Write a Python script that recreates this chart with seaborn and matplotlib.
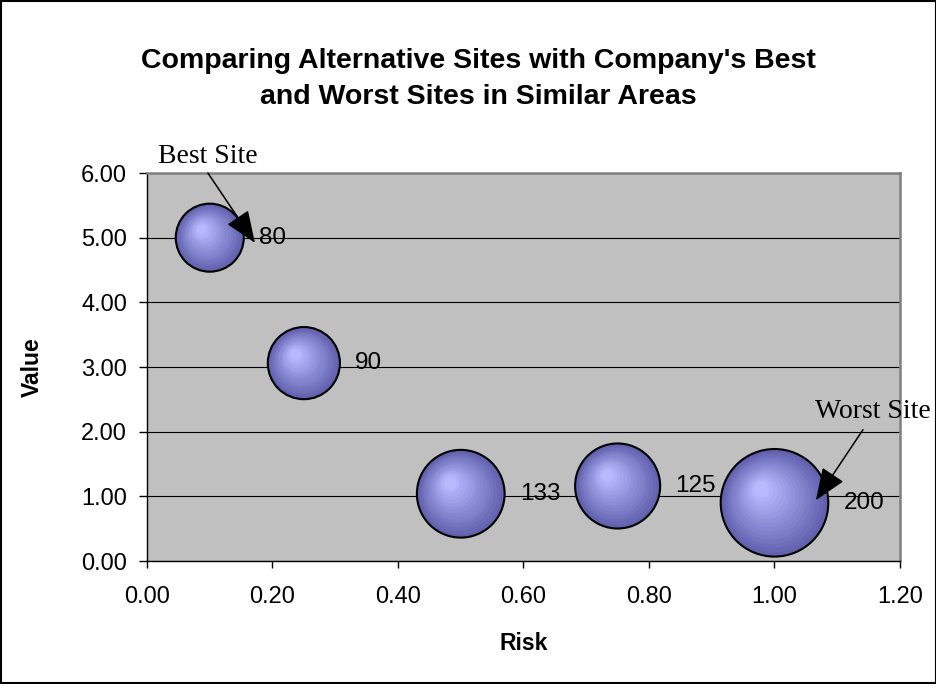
import numpy as np
import pandas as pd
import matplotlib
matplotlib.use("Agg")
import matplotlib.pyplot as plt
import matplotlib.transforms as mtransforms
from matplotlib.patches import Rectangle
import seaborn as sns

# chart data
risk = [0.10, 0.25, 0.50, 0.75, 1.00]
value = [5.00, 3.06, 1.04, 1.16, 0.90]
site_size = [80, 90, 133, 125, 200]
x_ticks = [0.00, 0.20, 0.40, 0.60, 0.80, 1.00, 1.20]
y_ticks = [0.00, 1.00, 2.00, 3.00, 4.00, 5.00, 6.00]

df = pd.DataFrame({"Risk": risk, "Value": value, "Size": site_size})

sns.set_style("white")
plt.rcParams["font.family"] = ["Liberation Sans", "DejaVu Sans"]
plt.rcParams["text.color"] = "black"
plt.rcParams["axes.labelcolor"] = "black"
plt.rcParams["xtick.color"] = "black"
plt.rcParams["ytick.color"] = "black"

PT2_PER_UNIT = 30  # bubble area (pt^2) per unit of size
dark = np.array([0.38, 0.38, 0.68])
light = np.array([0.72, 0.72, 1.00])

fig = plt.figure(figsize=(9.37, 6.84), dpi=100)
ax = fig.add_axes([147 / 937, 1 - 561 / 684, 753 / 937, 388 / 684])
ax.set_facecolor("#C0C0C0")

# base bubbles with outline
sns.scatterplot(data=df, x="Risk", y="Value", size="Size",
                sizes=(PT2_PER_UNIT * min(site_size), PT2_PER_UNIT * max(site_size)),
                size_norm=(min(site_size), max(site_size)),
                color=dark, edgecolor="black", linewidth=1.5,
                legend=False, ax=ax, zorder=3)

# shading layers to fake the radial gradient
fracs = np.linspace(0.93, 0.15, 14)
for x, y, v in zip(risk, value, site_size):
    s = PT2_PER_UNIT * v
    r_pt = np.sqrt(s) / 2
    for i, f in enumerate(fracs):
        t = (i + 1) / len(fracs)
        col = dark + (light - dark) * t
        shift = (1 - f) * 0.40 * r_pt
        tr = mtransforms.offset_copy(ax.transData, fig=fig, x=-shift * 0.75, y=shift * 0.75,
                                     units="points")
        ax.scatter([x], [y], s=s * f ** 2, color=col, linewidths=0, transform=tr, zorder=4)
    ax.annotate(str(v), (x, y), xytext=(r_pt + 11, 0), textcoords="offset points",
                ha="left", va="center", fontsize=17.5, color="black", zorder=6)

ax.set_xlim(0, 1.2)
ax.set_ylim(0, 6)
ax.set_xticks(x_ticks)
ax.set_yticks(y_ticks)
ax.set_xticklabels([f"{t:.2f}" for t in x_ticks], fontsize=17)
ax.set_yticklabels([f"{t:.2f}" for t in y_ticks], fontsize=17)
ax.tick_params(axis="x", direction="out", length=5, width=1, pad=13, colors="black", bottom=True)
ax.tick_params(axis="y", direction="out", length=5.8, width=1, pad=8.6, colors="black", left=True)

ax.yaxis.grid(True, color="black", linewidth=0.8)
ax.set_axisbelow(True)
for side in ["top", "right"]:
    ax.spines[side].set_color("#808080")
    ax.spines[side].set_linewidth(1.8)
for side in ["left", "bottom"]:
    ax.spines[side].set_color("black")
    ax.spines[side].set_linewidth(1.0)

ax.set_xlabel("Risk", fontsize=16.5, fontweight="bold", va="center")
ax.set_ylabel("Value", fontsize=16.5, fontweight="bold", va="center", ha="center")
ax.xaxis.set_label_coords(0.5, (561 - 643) / 388)
ax.yaxis.set_label_coords((32 - 147) / 753, 0.5)

# callouts
arrow = dict(arrowstyle="-|>,head_length=0.8,head_width=0.32", color="black",
             lw=1.1, mutation_scale=25, shrinkA=0, shrinkB=0)
ax.text(0.097, 6.15, "Best Site", ha="center", va="baseline", fontsize=20,
        family=["Liberation Serif", "DejaVu Serif"], clip_on=False, zorder=7)
ax.annotate("", xy=(0.172, 4.92), xytext=(0.097, 6.0), arrowprops=arrow,
            annotation_clip=False, zorder=7)
ax.text(1.156, 2.21, "Worst Site", ha="center", va="baseline", fontsize=20,
        family=["Liberation Serif", "DejaVu Serif"], clip_on=False, zorder=7)
ax.annotate("", xy=(1.066, 0.94), xytext=(1.141, 2.03), arrowprops=arrow,
            annotation_clip=False, zorder=7)

fig.text(478 / 937, 1 - 79 / 684,
         "Comparing Alternative Sites with Company's Best\nand Worst Sites in Similar Areas",
         ha="center", va="center", fontsize=20.5, fontweight="bold", linespacing=1.55)

fig.patches.append(Rectangle((0.0015, 0.002), 0.997, 0.996, transform=fig.transFigure,
                             fill=False, edgecolor="black", linewidth=1.5))

fig.savefig("out.png", dpi=100)
